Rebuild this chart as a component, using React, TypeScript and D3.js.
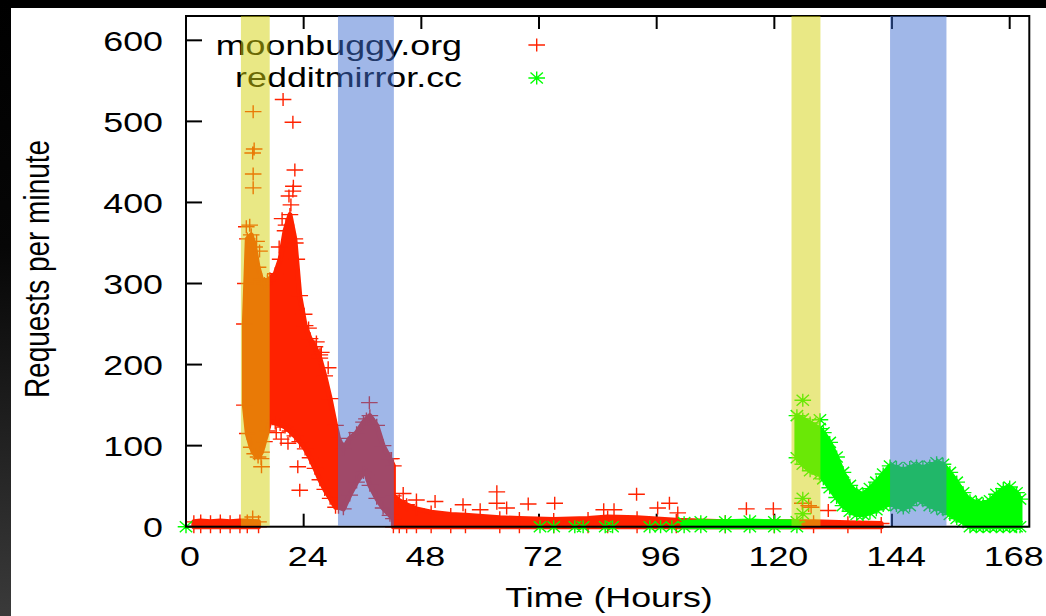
import React from 'react';
import * as d3 from 'd3';

const W = 1046;
const H = 616;

const xTicks = [0, 24, 48, 72, 96, 120, 144, 168];
const yTicks = [0, 100, 200, 300, 400, 500, 600];

// shaded periods, in hours
const yellowBands: [number, number][] = [[11.2, 17.07], [123.5, 129.4]];
const blueBands: [number, number][] = [[31.0, 42.4], [143.6, 155.1]];

// moonbuggy.org, dense parts of the scatter: [hour, low, high]
const moonStripA: [number, number, number][] = [
  [1.6, 0, 6], [3, 0, 7], [5, 0, 6], [7, 0, 7], [9, 0, 6], [11, 0, 7], [12.5, 0, 7], [14.8, 0, 6],
];
const moonPeak: [number, number, number][] = [
  [11.9, 150, 250], [12.5, 115, 355], [13.3, 98, 360], [14.0, 90, 345], [14.7, 86, 320],
  [15.4, 92, 305], [16.0, 105, 300], [16.6, 118, 303], [17.1, 130, 306], [18.2, 128, 312],
  [19.2, 126, 330], [20.2, 123, 365], [21.2, 118, 385], [22.2, 112, 355], [23.2, 105, 285],
  [24.3, 96, 248], [25.3, 85, 232], [26.3, 72, 222], [27.3, 58, 208], [28.3, 46, 186],
  [29.4, 35, 158], [30.5, 24, 125], [31.1, 24, 109], [32.1, 22, 96], [33.4, 39, 109],
  [34.8, 55, 116], [36.2, 67, 129], [36.8, 64, 133], [37.5, 51, 137], [38.9, 35, 125],
  [40.2, 23, 100], [41.6, 14, 84], [42.3, 10, 75],
];
const moonStripB: [number, number, number][] = [
  [42.3, 0, 38], [43.5, 0, 32], [45, 0, 27], [47, 0, 22], [50, 0, 18], [54, 0, 15],
  [57, 0, 14], [64, 0, 11], [68, 0, 10], [75, 0, 9], [82, 0, 10], [86, 0, 12], [92, 0, 11],
  [100, 0, 8], [110, 0, 6], [120, 0, 6], [128, 0, 6], [135, 0, 5], [141.8, 0, 4],
];
// moonbuggy.org, isolated points: [hour, value]
const moonPoints: [number, number][] = [
  [19.8, 527], [21.8, 499], [22.2, 440], [21.9, 420], [21.8, 414], [21.4, 397], [22.8, 74], [23.2, 45],
  [13.7, 512], [13.9, 466], [13.6, 461], [13.7, 435], [13.7, 418], [15.4, 74], [15.3, 84], [13.6, 12],
  [12.3, 370], [13.0, 372], [14.4, 352], [15.0, 340], [12.1, 300],
  [19.6, 380], [20.4, 372], [21.0, 408], [22.3, 350], [22.6, 330], [19.0, 345],
  [24.1, 262], [25.0, 245], [26.6, 228], [27.6, 215],
  [19.4, 108], [20.8, 103], [18.4, 116],
  [37.4, 153], [41.9, 84], [27.3, 212], [29.0, 196],
  [44.3, 41], [47, 33], [50.8, 31], [56.5, 27], [60, 21], [63.4, 43], [63.4, 29], [65.4, 23],
  [69.8, 28], [75.2, 29], [85.2, 21], [87.3, 21], [91.9, 40], [96.2, 23], [98.6, 29], [100.3, 17],
  [114.3, 22], [119.8, 22], [125.7, 29], [127, 26], [127.5, 24], [131, 20],
];

// redditmirror.cc
const redditStrip: [number, number, number][] = [
  [101.6, 0, 5], [105, 0, 6], [110, 0, 6], [115, 0, 7], [120, 0, 6], [124.6, 0, 6],
];
const redditWave: [number, number, number][] = [
  [124.6, 85, 137], [125.8, 77, 133], [127.3, 69, 128], [129.2, 65, 121], [130.0, 59, 116],
  [131.3, 48, 104], [132.7, 36, 86], [134.0, 26, 67], [135.4, 19, 51], [136.8, 15, 42],
  [138.1, 15, 40], [139.5, 17, 47], [140.8, 21, 55], [142.2, 26, 65], [143.6, 28, 75],
  [144.9, 26, 73], [146.3, 23, 69], [147.6, 26, 73], [149.0, 34, 75], [150.3, 32, 73],
  [151.7, 26, 75], [153.1, 23, 79], [154.4, 21, 77], [155.8, 15, 67], [157.2, 10, 55],
  [158.5, 6, 42], [159.9, 0, 32], [161.2, 0, 30], [162.6, 0, 28], [164.0, 0, 32],
  [165.3, 0, 40], [166.7, 0, 47], [168.0, 0, 49], [169.4, 0, 42], [170.1, 0, 34],
];
const redditPoints: [number, number][] = [
  [0, 0], [125.8, 156], [129.3, 132], [125.8, 35], [125.8, 16],
  [72.2, 0], [75.0, 0], [79.3, 0], [81.0, 0], [85.5, 0], [87.0, 0], [94.6, 0], [96.8, 0], [99.1, 0],
];

const RED = '#ff2200';
const GREEN = '#00ff00';
const FONT = '"Liberation Sans", Arial, Helvetica, sans-serif';
const SX = 1.28; // the picture is stretched sideways

const x = d3.scaleLinear().domain([0, 172]).range([186, 1029.3]);
const y = d3.scaleLinear().domain([0, 630]).range([526.7, 16]);

const plus = (cx: number, cy: number) =>
  `M${cx - 8.3},${cy}h16.6M${cx},${cy - 6.5}v13`;
const star = (cx: number, cy: number) =>
  plus(cx, cy) + `M${cx - 6.2},${cy - 5.5}l12.4,11M${cx - 6.2},${cy + 5.5}l12.4,-11`;

const area = d3.area<[number, number, number]>()
  .x(d => x(d[0]))
  .y0(d => y(d[1]))
  .y1(d => y(d[2]));

function edgeMarks(segs: [number, number, number][][], mark: (a: number, b: number) => string) {
  let p = '';
  segs.forEach(seg => seg.forEach(d => {
    p += mark(x(d[0]), y(d[1])) + mark(x(d[0]), y(d[2]));
  }));
  return p;
}

function Series({ segs, points, color, mark }: {
  segs: [number, number, number][][];
  points: [number, number][];
  color: string;
  mark: (a: number, b: number) => string;
}) {
  return (
    <g>
      {segs.map((s, i) => (
        <path key={i} d={area(s) || ''} fill={color} stroke={color} strokeWidth={5} strokeLinejoin="round" />
      ))}
      <path d={edgeMarks(segs, mark)} stroke={color} strokeWidth={1.4} fill="none" />
      <path d={points.map(p => mark(x(p[0]), y(p[1]))).join('')} stroke={color} strokeWidth={1.4} fill="none" />
    </g>
  );
}

const Txt = ({ tx, ty, anchor, children, rotate }: {
  tx: number; ty: number; anchor: string; children: React.ReactNode; rotate?: boolean;
}) => (
  <text
    transform={`translate(${tx},${ty}) scale(${SX},1)${rotate ? ' rotate(-90)' : ''}`}
    textAnchor={anchor}
    fontFamily={FONT}
    fontSize={28}
    fill="#000"
  >
    {children}
  </text>
);

export default function App() {
  const top = y(630);
  const bottom = y(0);
  return (
    <svg width={W} height={H} style={{ position: 'absolute', left: 0, top: 0 }}>
      <defs>
        <linearGradient id="edge" x1="0" y1="0" x2="0" y2="1">
          <stop offset="0" stopColor="#000" />
          <stop offset="0.4" stopColor="#060606" />
          <stop offset="1" stopColor="#3a3a3a" />
        </linearGradient>
      </defs>
      <rect width={W} height={H} fill="#000" />
      <rect x={0} y={0} width={11} height={H} fill="url(#edge)" />
      <rect x={11} y={8} width={W - 11} height={H - 8} fill="#fff" />

      {/* ticks */}
      <g stroke="#000" strokeWidth={2}>
        {xTicks.map(t => (
          <g key={t}>
            <line x1={x(t)} x2={x(t)} y1={bottom} y2={bottom - 13} />
            <line x1={x(t)} x2={x(t)} y1={top} y2={top + 13} />
          </g>
        ))}
        {yTicks.map(v => (
          <line key={v} x1={x(0)} x2={x(0) + 16} y1={y(v)} y2={y(v)} />
        ))}
      </g>

      <Series segs={[moonStripA, moonPeak, moonStripB]} points={moonPoints} color={RED} mark={plus} />
      <Series segs={[redditStrip, redditWave]} points={redditPoints} color={GREEN} mark={star} />

      <rect x={x(0)} y={top} width={x(172) - x(0)} height={bottom - top} fill="none" stroke="#000" strokeWidth={2} />

      {/* legend */}
      <Txt tx={462} ty={55} anchor="end">moonbuggy.org</Txt>
      <Txt tx={462} ty={87} anchor="end">redditmirror.cc</Txt>
      <path d={plus(536.7, 45)} stroke={RED} strokeWidth={1.4} fill="none" />
      <path d={star(536.7, 78)} stroke={GREEN} strokeWidth={1.4} fill="none" />

      {/* shaded periods */}
      {yellowBands.map((b, i) => (
        <rect key={'y' + i} x={x(b[0])} y={top} width={x(b[1]) - x(b[0])} height={bottom - 1 - top}
          fill="rgb(211,210,11)" fillOpacity={0.5} />
      ))}
      {blueBands.map((b, i) => (
        <rect key={'b' + i} x={x(b[0])} y={top} width={x(b[1]) - x(b[0])} height={bottom - 1 - top}
          fill="rgb(65,111,209)" fillOpacity={0.5} />
      ))}

      {yTicks.map(v => (
        <Txt key={v} tx={163} ty={y(v) + 10.5} anchor="end">{v}</Txt>
      ))}
      {xTicks.map(t => (
        <Txt key={t} tx={x(t) + 4} ty={566} anchor="middle">{t}</Txt>
      ))}
      <Txt tx={609} ty={607} anchor="middle">Time (Hours)</Txt>
      <Txt tx={49} ty={269} anchor="middle" rotate>Requests per minute</Txt>
    </svg>
  );
}
